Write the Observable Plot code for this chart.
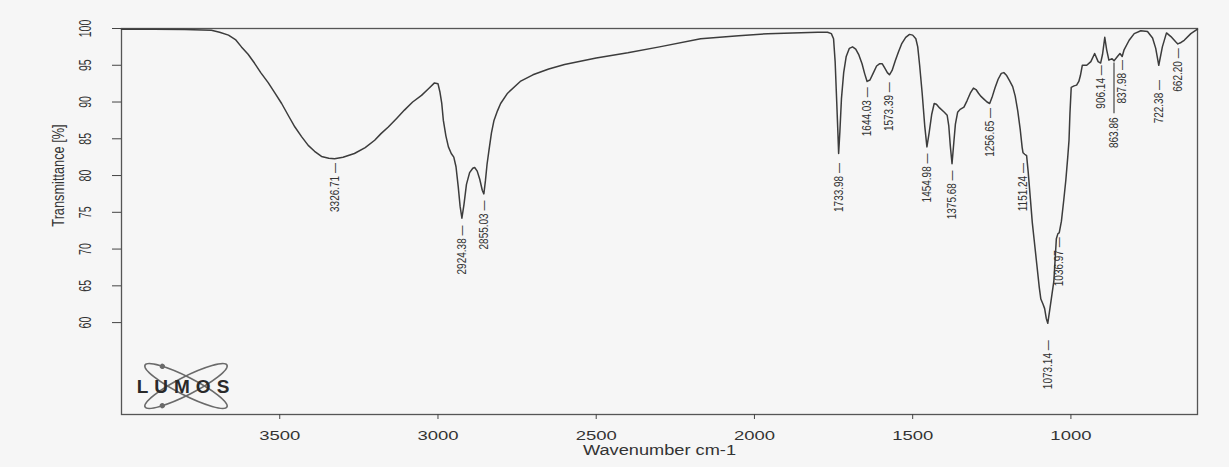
<!DOCTYPE html>
<html>
<head>
<meta charset="utf-8">
<script src="https://cdn.jsdelivr.net/npm/d3@7"></script>
<script src="https://cdn.jsdelivr.net/npm/@observablehq/plot@0.6"></script>
<style>
  html, body { margin: 0; padding: 0; background: #f6f6f6; }
  #chart { width: 1229px; height: 467px; }
</style>
</head>
<body>
<div id="chart"></div>
<script>
// ---- Spectrum (wavenumber cm-1 -> transmittance %) ----
const wavenumber = [
  4000, 3900, 3800, 3716, 3690, 3662, 3640, 3621, 3600, 3580, 3560, 3536, 3515, 3494, 3472, 3452, 3431, 3410, 3390, 3368,
  3345, 3326.71, 3300, 3264, 3230, 3200, 3180, 3157, 3130, 3106, 3080, 3052, 3030, 3011, 3000, 2994, 2988, 2983, 2975, 2967,
  2958, 2950, 2943, 2936, 2930, 2924.38, 2918, 2910, 2900, 2890, 2884, 2876, 2868, 2860, 2855.03, 2850, 2845, 2839, 2831, 2823,
  2812, 2802, 2780, 2740, 2700, 2650, 2600, 2500, 2400, 2300, 2170, 2050, 1958, 1880, 1800, 1769, 1757, 1750, 1745, 1740,
  1736, 1733.98, 1730, 1725, 1718, 1710, 1700, 1690, 1680, 1670, 1660, 1652, 1644.03, 1635, 1625, 1614, 1605, 1596, 1588, 1580,
  1573.39, 1565, 1555, 1545, 1535, 1522, 1510, 1500, 1490, 1484, 1478, 1470, 1462, 1454.98, 1448, 1440, 1432, 1425, 1415, 1400,
  1391, 1386, 1381, 1375.68, 1370, 1365, 1358, 1350, 1338, 1328, 1318, 1308, 1300, 1292, 1285, 1275, 1265, 1256.65, 1248, 1240,
  1230, 1220, 1212, 1203, 1194, 1184, 1176, 1168, 1160, 1154, 1151.24, 1146, 1140, 1135, 1128, 1122, 1116, 1108, 1100, 1095,
  1088, 1083, 1078, 1073.14, 1066, 1060, 1054, 1050, 1046, 1041, 1036.97, 1030, 1023, 1016, 1010, 1006, 1003, 999, 990, 982,
  975, 970, 964, 950, 937, 925, 914, 906.14, 900, 893, 887, 880, 870, 863.86, 853, 845, 837.98, 832, 816, 800,
  779, 758, 742, 732, 722.38, 711, 698, 684, 669, 662.2, 652, 642, 621, 600
];
const transmittance = [
  99.9, 99.9, 99.85, 99.75, 99.5, 99.1, 98.5, 97.5, 96.5, 95.3, 94.0, 92.6, 91.2, 89.8, 88.1, 86.6, 85.3, 84.1, 83.3, 82.6,
  82.35, 82.3, 82.5, 83.0, 83.8, 84.8, 85.7, 86.6, 87.8, 88.9, 90.0, 90.9, 91.8, 92.6, 92.5, 91.4, 89.8, 87.5, 85.4, 83.9,
  83.0, 82.5, 81.2, 78.5, 75.8, 74.2, 76.0, 78.8, 80.4, 81.0, 81.1, 80.6, 79.5, 78.0, 77.5, 79.3, 81.5, 83.4, 85.8, 87.5,
  88.8, 89.8, 91.2, 92.8, 93.7, 94.5, 95.1, 96.0, 96.7, 97.5, 98.6, 99.0, 99.3, 99.4, 99.5, 99.5, 99.3, 98.6, 95.5, 90.0,
  85.5, 83.0, 86.0, 90.5, 94.0, 96.2, 97.3, 97.5, 97.2, 96.4, 95.2, 93.9, 92.8, 93.0, 93.9, 94.9, 95.2, 95.2, 94.6, 94.0,
  93.7, 94.3, 95.6, 96.8, 97.9, 98.8, 99.2, 99.1, 98.6, 97.5, 95.0, 91.2, 86.8, 83.9, 85.8, 88.3, 89.8, 89.7, 89.2, 88.6,
  88.2, 86.8, 84.0, 81.6, 84.5, 87.0, 88.6, 89.0, 89.3, 90.2, 91.2, 91.9, 91.7, 91.2, 90.8, 90.4, 90.0, 89.8, 90.8, 91.9,
  93.1, 93.9, 94.0, 93.6, 92.9, 92.1, 90.8, 88.8, 86.2, 83.8, 83.1, 82.9, 82.7, 80.5, 76.8, 73.6, 71.2, 68.0, 64.8, 63.2,
  62.5, 61.9, 60.6, 59.9, 62.0, 63.8, 65.6, 68.5, 71.4, 72.1, 72.2, 73.8, 76.5, 79.4, 82.5, 84.8, 88.5, 92.0, 92.2, 92.3,
  92.8, 93.6, 95.0, 95.0, 95.5, 96.6, 95.5, 95.3, 96.5, 98.8, 97.1, 95.7, 95.9, 95.6, 96.2, 96.6, 96.2, 97.1, 98.4, 99.3,
  99.7, 99.6, 98.7, 97.3, 95.0, 97.5, 99.4, 98.9, 98.2, 97.9, 98.1, 98.4, 99.3, 99.9
];

// ---- Peak annotations ----
const peakWavenumber = [3326.71, 2924.38, 2855.03, 1733.98, 1644.03, 1573.39, 1454.98, 1375.68, 1256.65,
                        1151.24, 1073.14, 1036.97, 906.14, 863.86, 837.98, 722.38, 662.20];
const peakLabel = ["3326.71", "2924.38", "2855.03", "1733.98", "1644.03", "1573.39", "1454.98", "1375.68", "1256.65",
                   "1151.24", "1073.14", "1036.97", "906.14", "863.86", "837.98", "722.38", "662.20"];
const peakLabelTop = [81.7, 73.2, 76.6, 81.7, 92.0, 92.7, 83.0, 80.7, 89.2,
                      81.7, 57.6, 71.6, 95.0, 87.9, 95.7, 93.0, 97.3];
const peakHasTick = [true, true, true, true, true, true, true, true, true,
                     true, true, true, true, false, true, true, true];
// long leader line for the displaced label
const leaderWavenumber = [863.86];
const leaderTop = [95.3];
const leaderBottom = [88.4];

// ---- Axes ----
const xTicks = [3500, 3000, 2500, 2000, 1500, 1000];
const yTicks = [60, 65, 70, 75, 80, 85, 90, 95, 100];
const xDomain = [4000, 600];
const yDomain = [47.5, 100];
const xTitle = "Wavenumber cm-1";
const yTitle = "Transmittance [%]";
const yTitleAt = [80];
const logoText = "LUMOS";

const spectrum = wavenumber.map((w, i) => ({w, t: transmittance[i]}));
const peaks = peakWavenumber.map((w, i) => ({
  w, top: peakLabelTop[i], text: peakLabel[i] + (peakHasTick[i] ? " \u2014" : "")
}));
const leaders = leaderWavenumber.map((w, i) => ({w, y1: leaderTop[i], y2: leaderBottom[i]}));

function lumosLogo(index, scales, values, dims) {
  const g = d3.create("svg:g");
  const cx = dims.marginLeft + 65;
  const cy = dims.height - dims.marginBottom - 28;
  const root = g.append("g").attr("transform", `translate(${cx},${cy})`);
  [27, -27].forEach((a) => {
    const orb = root.append("g").attr("transform", `rotate(${a})`);
    orb.append("ellipse")
      .attr("rx", 46).attr("ry", 9)
      .attr("fill", "none").attr("stroke", "#6a6a6a").attr("stroke-width", 1.6);
    orb.append("circle")
      .attr("cx", -30).attr("cy", a > 0 ? -6.8 : 6.8).attr("r", 2.6)
      .attr("fill", "#6a6a6a");
  });
  root.append("text")
    .attr("x", 0).attr("y", 7)
    .attr("text-anchor", "middle")
    .attr("font-size", 19).attr("font-weight", "bold")
    .attr("letter-spacing", 6)
    .attr("fill", "#2a2a2a")
    .text(logoText);
  return g.node();
}

const chart = Plot.plot({
  width: 1229,
  height: 467,
  marginLeft: 121,
  marginRight: 32,
  marginTop: 28,
  marginBottom: 53,
  style: {background: "#f6f6f6", fontFamily: "'Liberation Sans', Arial, sans-serif", color: "#444"},
  x: {domain: xDomain},
  y: {domain: yDomain},
  marks: [
    Plot.frame({stroke: "#555", strokeWidth: 1.3}),
    Plot.axisX(xTicks, {tickSize: 5, tickPadding: 11, fontSize: 13, label: null, fill: "#333", tickFormat: d => String(d)}),
    Plot.axisY(yTicks, {tickSize: 9, tickFormat: () => "", label: null}),
    Plot.text(yTicks, {
      y: d => d, text: d => String(d), frameAnchor: "left", dx: -31,
      rotate: -90, textAnchor: "middle", lineAnchor: "bottom",
      fontSize: 17, fill: "#333"
    }),
    Plot.text(yTitleAt, {
      y: d => d, text: () => yTitle, frameAnchor: "left", dx: -58,
      rotate: -90, textAnchor: "middle", lineAnchor: "bottom",
      fontSize: 17, fill: "#333"
    }),
    Plot.text([xTitle], {
      text: d => d, frameAnchor: "bottom", dy: 31, lineAnchor: "top",
      fontSize: 14, fill: "#333"
    }),
    Plot.line(spectrum, {x: "w", y: "t", stroke: "#3c3c3c", strokeWidth: 1.5, strokeLinejoin: "round"}),
    Plot.ruleX(leaders, {x: "w", y1: "y1", y2: "y2", stroke: "#444", strokeWidth: 1.2}),
    Plot.text(peaks, {
      x: "w", y: "top", text: "text", rotate: -90, textAnchor: "end", lineAnchor: "middle",
      fontSize: 12.5, fill: "#333"
    }),
    lumosLogo
  ]
});

document.getElementById("chart").appendChild(chart);

// mimic the stretched/condensed lettering of the original scan
function squeezeTexts(nodes, factor) {
  nodes.forEach(t => {
    const L = t.getComputedTextLength();
    if (L > 0) {
      t.setAttribute("textLength", (L * factor).toFixed(1));
      t.setAttribute("lengthAdjust", "spacingAndGlyphs");
    }
  });
}
const textGroups = chart.querySelectorAll('g[aria-label="text"]');
// order: y tick labels, y title, x title, peak labels
const factors = [0.62, 0.75, 1.3, 0.8];
textGroups.forEach((g, i) => {
  if (i < factors.length) squeezeTexts(g.querySelectorAll("text"), factors[i]);
});
squeezeTexts(chart.querySelectorAll('g[aria-label="x-axis tick label"] text'), 1.42);
</script>
</body>
</html>
